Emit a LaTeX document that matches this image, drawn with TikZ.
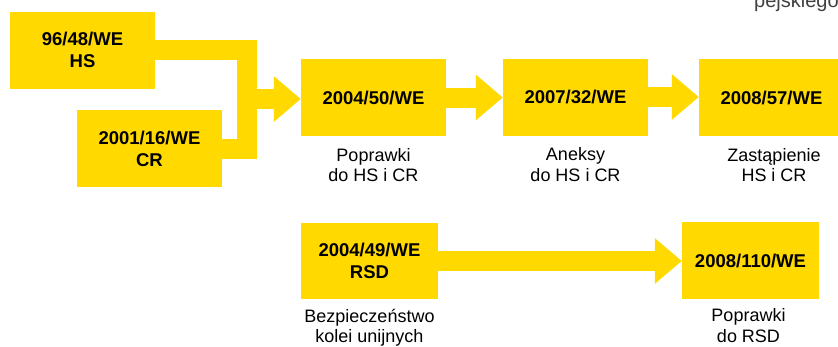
\documentclass[tikz,border=0pt]{standalone}
\usepackage{fontspec}
\setmainfont{Liberation Sans}
\usetikzlibrary{arrows.meta,calc}
\definecolor{yel}{RGB}{255,217,0}
\begin{document}
\begin{tikzpicture}[x=1pt,y=-1pt,
  box/.style={fill=yel, minimum width=145pt, minimum height=77pt, inner sep=0pt, align=center, font=\fontsize{18.5}{22}\selectfont\bfseries},
  lab/.style={align=center, inner sep=0pt, anchor=north, font=\fontsize{18}{20.5}\selectfont},
  conn/.style={draw=yel, line width=20pt, line join=miter},
  fat/.style={conn, -{Triangle[length=27pt,width=44pt]}}]
\clip (0,0) rectangle (838,346);
\useasboundingbox (0,0) rectangle (838,346);
\node[anchor=base west, inner sep=0pt, text=black!75, font=\fontsize{20}{24}\selectfont] (t) at (754,7) {pejskiego};
\node[box] (A) at (82.5,50) {96/48/WE\\HS};
\node[box] (B) at (149.5,148.5) {2001/16/WE\\CR};
\node[box] (C) at (373.5,97.5) {2004/50/WE};
\node[box] (D) at (575.5,97) {2007/32/WE};
\node[box] (E) at (771.5,97.5) {2008/57/WE};
\node[box, minimum width=137pt, minimum height=76pt] (F) at (369.5,261) {2004/49/WE\\RSD};
\node[box, minimum width=137pt, minimum height=77pt] (G) at (750.5,260.5) {2008/110/WE};
\coordinate (j) at (247,99);
\draw[conn] (A.east) -| (j) |- (B.east);
\draw[fat] (j) -- (j -| C.west);
\draw[fat] (C.east) -- (C.east -| D.west);
\draw[fat] (D.east) -- (D.east -| E.west);
\draw[fat] (F.east) -- (F.east -| G.west);
\node[lab] (lc) at ([yshift=-12pt]C.south) {Poprawki\\do HS i CR};
\node[lab] (ld) at ([yshift=-12pt]D.south) {Aneksy\\do HS i CR};
\node[lab] (le) at ([yshift=-12pt,xshift=2.5pt]E.south) {Zastąpienie\\HS i CR};
\node[lab] (lf) at ([yshift=-9.5pt]F.south) {Bezpieczeństwo\\kolei unijnych};
\node[lab] (lg) at ([yshift=-9.5pt,xshift=-2pt]G.south) {Poprawki\\do RSD};
\end{tikzpicture}
\end{document}
